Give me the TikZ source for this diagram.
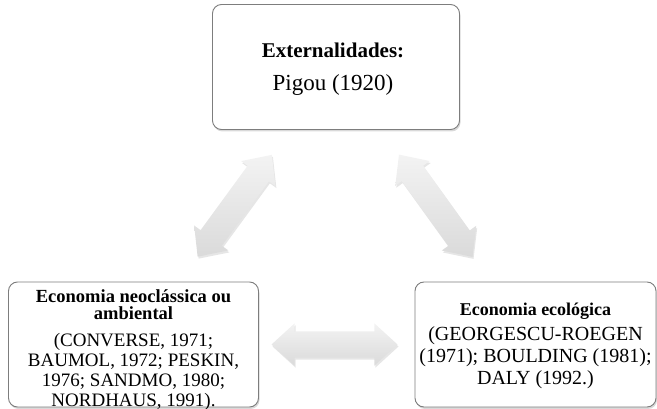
\documentclass[tikz,border=0pt]{standalone}
\usepackage{fontspec}
\setmainfont{Liberation Serif}
\usepackage{tikz}
\usetikzlibrary{shapes.arrows, shadows, calc}
\definecolor{boxborder}{RGB}{125,125,125}
\definecolor{arrowlight}{RGB}{243,243,243}
\definecolor{arrowdark}{RGB}{218,218,218}

\begin{document}
\begin{tikzpicture}[x=1pt, y=-1pt,
    box/.style={rectangle, draw=boxborder, line width=0.9pt, fill=white,
                rounded corners=9pt, minimum width=#1, minimum height=125pt,
                drop shadow={opacity=0.3, shadow xshift=1pt, shadow yshift=-2pt}},
    boxtext/.style={inner sep=0pt, align=center, anchor=north},
    linkarrow/.style={double arrow, draw=none, top color=arrowlight, bottom color=arrowdark,
                minimum height=126pt, inner xsep=0pt, inner ysep=13pt,
                double arrow head extend=8pt, double arrow tip angle=85,
                drop shadow={opacity=0.2, shadow xshift=1pt, shadow yshift=-2pt}}
]
    \useasboundingbox (0,0) rectangle (657,409);

    % Externalidades
    \node[box=247pt] (extern) at (336,67) {};
    \node[boxtext, font=\fontsize{23}{33}\selectfont] (externtext) at (333,43) {%
        {\bfseries\fontsize{21}{33}\selectfont Externalidades:}\\%
        Pigou (1920)%
    };

    % Economia neoclassica
    \node[box=250pt] (neoclass) at (133.5,344.5) {};
    \node[boxtext, font=\fontsize{19}{17}\selectfont] (neoclasstext) at (133.5,289) {%
        {\bfseries\fontsize{18.5}{17}\selectfont Economia neoclássica ou}\\%
        {\bfseries\fontsize{18.5}{17}\selectfont ambiental}\\[10pt]%
        (CONVERSE, 1971;\\[3pt]%
        BAUMOL, 1972; PESKIN,\\[3pt]%
        1976; SANDMO, 1980;\\[3pt]%
        NORDHAUS, 1991).%
    };

    % Economia ecologica
    \node[box=241pt] (ecolog) at (535.5,344.5) {};
    \node[boxtext, font=\fontsize{20}{17}\selectfont] (ecologtext) at (535.5,303) {%
        {\bfseries\fontsize{18}{17}\selectfont Economia ecológica}\\[6pt]%
        (GEORGESCU-ROEGEN\\[3pt]%
        (1971); BOULDING (1981);\\[3pt]%
        DALY (1992.)%
    };

    % Arrows between the boxes
    \path let \p1 = ($(extern)-(neoclass)$), \n1 = {atan2(\y1,\x1)} in
        node[linkarrow, rotate=\n1] (linkleft) at ($(neoclass)!0.5!(extern)$) {};
    \path let \p1 = ($(extern)-(ecolog)$), \n1 = {atan2(\y1,\x1)} in
        node[linkarrow, rotate=\n1] (linkright) at ($(ecolog)!0.5!(extern)$) {};
    \node[linkarrow] (linkbottom) at ($(neoclass)!0.5!(ecolog)$) {};
\end{tikzpicture}
\end{document}
